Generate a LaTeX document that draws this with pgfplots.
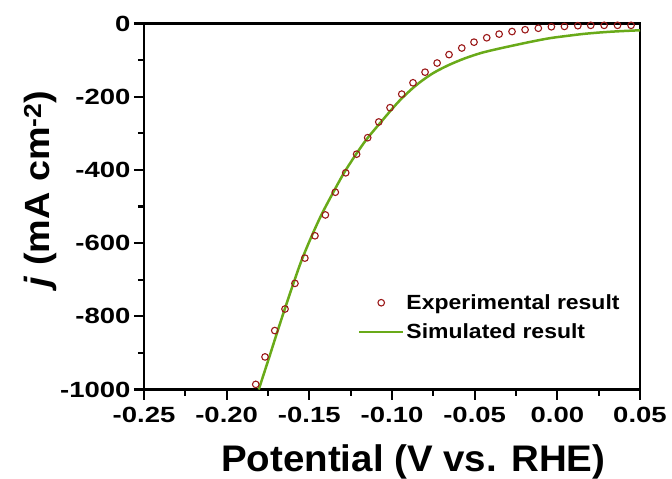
\documentclass[border=0pt]{standalone}
\usepackage{fontspec}
\setmainfont{Liberation Sans}[FakeStretch=1.08]
\newfontfamily\tickfont{Liberation Sans}[FakeStretch=1.25]
\newfontfamily\legfont{Liberation Sans}[FakeStretch=1.12]
\newfontfamily\xlabfont{Liberation Sans}[FakeStretch=1.04]
\usepackage{pgfplots}
\pgfplotsset{compat=1.18}
\definecolor{expred}{RGB}{155,25,25}
\definecolor{simgreen}{RGB}{105,170,25}
\pgfplotsset{
 mymark legend/.style={legend image code/.code={\draw[##1] plot coordinates {(22bp,0bp)};}},
 myline legend/.style={legend image code/.code={\draw[##1] (0bp,0bp) -- (44bp,0bp);}},
}
\begin{document}
\begin{tikzpicture}
\useasboundingbox (0,0) rectangle (672bp,479bp);
\begin{axis}[
 at={(144bp,89.5bp)}, anchor=south west,
 scale only axis, width=496bp, height=366bp,
 xmin=-0.25, xmax=0.05, ymin=-1000, ymax=0,
 clip=false,
 xtick={-0.25,-0.20,-0.15,-0.10,-0.05,0,0.05},
 minor xtick={-0.225,-0.175,-0.125,-0.075,-0.025,0.025},
 ytick={-1000,-800,-600,-400,-200,0},
 minor ytick={-900,-700,-500,-300,-100},
 tick align=outside, xtick pos=bottom, ytick pos=left,
 major tick length=10bp, minor tick length=6bp,
 every tick/.style={black, line width=2.2bp},
 axis line style={line width=2.6bp},
 xticklabel style={anchor=base, yshift=-23bp, /pgf/number format/.cd, fixed, fixed zerofill, precision=2, assume math mode=true},
 yticklabel style={/pgf/number format/.cd, fixed, 1000 sep={}, assume math mode=true},
 tick label style={font=\tickfont\bfseries\fontsize{22bp}{24bp}\selectfont},
 xlabel={Potential (V vs. RHE)},
 xlabel style={at={([yshift=-81.5bp]axis description cs:0.543,0)}, anchor=base, font=\xlabfont\bfseries\fontsize{37bp}{40bp}\selectfont},
 ylabel={\textit{j} (mA cm\textsuperscript{-2})},
 ylabel style={at={([xshift=-94bp]axis description cs:0,0.548)}, anchor=base, font=\bfseries\fontsize{35bp}{38bp}\selectfont},
 legend cell align=left,
 legend style={draw=none, fill=none, at={(rel axis cs:0.431,0.197)}, anchor=west, inner sep=0pt, row sep=9bp, font=\legfont\bfseries\fontsize{20.5bp}{22bp}\selectfont},
]
\addplot[only marks, mark=o, mark size=3.3bp, mark options={line width=1.1bp, draw=expred}, draw=expred, mymark legend] table {
x y
-0.1824 -986
-0.1768 -911
-0.1709 -839
-0.1647 -780
-0.1587 -710
-0.1527 -641
-0.1466 -580
-0.1403 -523
-0.1343 -461
-0.1280 -408
-0.1214 -357
-0.1147 -312
-0.1080 -269
-0.1012 -230
-0.0941 -193
-0.0873 -162
-0.0800 -133
-0.0727 -108
-0.0655 -85
-0.0578 -67
-0.0504 -51
-0.0427 -39
-0.0352 -29
-0.0274 -22
-0.0195 -17
-0.0115 -13
-0.0036 -9
0.0043 -8
0.0124 -6
0.0202 -5
0.0283 -5
0.0364 -5
0.0446 -5
};
\addlegendentry{Experimental result}
\addplot[simgreen, line width=2.5bp, smooth, tension=0.5, myline legend] table {
x y
-0.1806 -1000
-0.1742 -911
-0.1694 -843
-0.1647 -778
-0.1597 -711
-0.1546 -646
-0.1485 -580
-0.1425 -521
-0.1355 -461
-0.1290 -408
-0.1217 -357
-0.1153 -316
-0.1072 -272
-0.0961 -214
-0.0860 -171
-0.0760 -138
-0.0659 -114
-0.0558 -95
-0.0457 -80
-0.0356 -69
-0.0255 -59
-0.0150 -49
-0.0044 -40
0.0057 -34
0.0158 -28.5
0.0259 -24.5
0.0360 -21.5
0.0500 -18.5
};
\addlegendentry{Simulated result}
\end{axis}
\end{tikzpicture}
\end{document}
